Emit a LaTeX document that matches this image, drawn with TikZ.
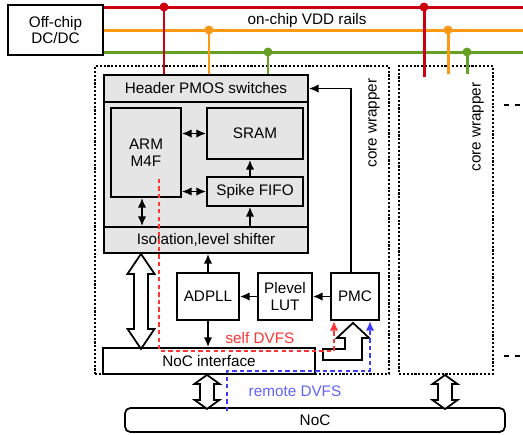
\documentclass[tikz,border=0pt]{standalone}
\usepackage{fontspec}
\setmainfont{Liberation Sans}
\usetikzlibrary{arrows.meta}

\definecolor{railred}{RGB}{204,0,17}
\definecolor{railorange}{RGB}{255,153,20}
\definecolor{railgreen}{RGB}{102,160,34}
\definecolor{selfred}{RGB}{255,51,51}
\definecolor{remoteblue}{RGB}{60,60,255}

\begin{document}
\begin{tikzpicture}[x=0.02cm,y=-0.02cm,line width=1pt,
  font=\fontsize{8.7}{9.4}\selectfont,
  box/.style={draw,fill=white,inner sep=0pt,align=center},
  blk/.style={box,fill=gray!20},
  wrapper/.style={draw,densely dotted,line width=1.2pt},
  sig/.style={-{Latex[length=5.5pt,width=4.8pt]}},
  bisig/.style={{Latex[length=5.5pt,width=4.8pt]}-{Latex[length=5.5pt,width=4.8pt]}},
  rail/.style={line width=1.7pt,draw=#1},
  fat/.style={draw,fill=white,line join=miter},
  dvfs/.style={sig,dash pattern=on 2.5pt off 1.8pt,line width=1.1pt,draw=#1}]

\useasboundingbox (0,0) rectangle (523,434);

% core wrappers
\node[wrapper,minimum width=5.88cm,minimum height=6.16cm] (wrap1) at (242,220) {};
\node[wrapper,minimum width=1.88cm,minimum height=6.16cm] (wrap2) at (446,220) {};
\node[rotate=90] (cw1) at (374,123) {core wrapper};
\node[rotate=90] (cw2) at (478,127) {core wrapper};
\draw[dashed] (504,105) -- (523,105);
\draw[dashed] (504,356) -- (523,356);

% supply
\node[box,minimum width=1.9cm,minimum height=1cm] (dcdc) at (55.5,30) {Off-chip\\DC/DC};
\node (vdd) at (307,21) {on-chip VDD rails};
\coordinate (redend) at (523,7);
\coordinate (orgend) at (523,30);
\coordinate (grnend) at (523,52);
\draw[rail=railred] (dcdc.east |- redend) -- (redend);
\draw[rail=railorange] (dcdc.east |- orgend) -- (orgend);
\draw[rail=railgreen] (dcdc.east |- grnend) -- (grnend);

% core
\node[blk,minimum width=4.08cm,minimum height=3.56cm] (core) at (206,164) {};
\node[blk,minimum width=4.08cm,minimum height=0.54cm] (header) at (206,88.5) {Header PMOS switches};
\node[blk,minimum width=4.08cm,minimum height=0.52cm] (iso) at (206,240) {Isolation,level shifter};
\node[blk,minimum width=1.4cm,minimum height=1.78cm] (arm) at (146,152.5) {ARM\\M4F};
\node[blk,minimum width=1.92cm,minimum height=1.02cm] (sram) at (255,133.5) {SRAM};
\node[blk,minimum width=1.92cm,minimum height=0.58cm] (fifo) at (255,191.5) {Spike FIFO};

% taps
\coordinate (tap1) at (164,7);
\coordinate (tap2) at (209,30);
\coordinate (tap3) at (268,52);
\coordinate (tap4) at (424,7);
\coordinate (tap5) at (448,30);
\coordinate (tap6) at (467,52);
\draw[rail=railred] (tap1) -- (tap1 |- header.north);
\draw[rail=railorange] (tap2) -- (tap2 |- header.north);
\draw[rail=railgreen] (tap3) -- (tap3 |- header.north);
\draw[rail=railred] (tap4) -- ++(0,70);
\draw[rail=railorange] (tap5) -- ++(0,44);
\draw[rail=railgreen] (tap6) -- ++(0,22);
\fill[railred] (tap1) circle (0.09cm) (tap4) circle (0.09cm);
\fill[railorange] (tap2) circle (0.09cm) (tap5) circle (0.09cm);
\fill[railgreen] (tap3) circle (0.09cm) (tap6) circle (0.09cm);

% power management
\node[box,minimum width=1.24cm,minimum height=0.94cm] (adpll) at (208,296.5) {ADPLL};
\node[box,minimum width=1.08cm,minimum height=0.94cm] (lut) at (285,296.5) {Plevel\\LUT};
\node[box,minimum width=0.96cm,minimum height=0.94cm] (pmc) at (355,296.5) {PMC};
\node[box,minimum width=4.24cm,minimum height=0.52cm] (nocif) at (209,361) {NoC interface};
\node[box,rounded corners=3pt,minimum width=7.6cm,minimum height=0.48cm] (noc) at (315,420) {NoC};

\draw[bisig] (arm.east |- sram.west) -- (sram.west);
\draw[bisig] (arm.east |- fifo.west) -- (fifo.west);
\draw[bisig] ([xshift=-0.08cm]arm.south) -- ([xshift=-0.08cm]arm.south |- iso.north);
\draw[sig] ([xshift=-0.1cm]fifo.south |- iso.north) -- ([xshift=-0.1cm]fifo.south);
\draw[sig] ([xshift=-0.1cm]fifo.north) -- ([xshift=-0.1cm]sram.south);
\draw[sig] (adpll.north) -- (adpll.north |- iso.south);
\draw[sig] (adpll.south) -- (adpll.south |- nocif.north);
\draw[sig] (pmc.west) -- (lut.east);
\draw[sig] (lut.west) -- (adpll.east);
\draw[sig] ([xshift=-0.08cm]pmc.north) |- (header.east);

% fat arrows
\draw[fat] ([xshift=-1.3cm]iso.south) -- ++(13.5,20) -- ++(-6.5,0) -- ++(0,55) -- ++(6.5,0)
  -- ++(-13.5,20) -- ++(-13.5,-20) -- ++(6.5,0) -- ++(0,-55) -- ++(-6.5,0) -- cycle;
\draw[fat] ([xshift=-0.04cm]nocif.south) -- ++(12.5,9) -- ++(-5.5,0) -- ++(0,16) -- ++(5.5,0)
  -- ++(-12.5,9) -- ++(-12.5,-9) -- ++(5.5,0) -- ++(0,-16) -- ++(-5.5,0) -- cycle;
\draw[fat] ([xshift=-0.02cm]wrap2.south) -- ++(12.5,9) -- ++(-5.5,0) -- ++(0,16) -- ++(5.5,0)
  -- ++(-12.5,9) -- ++(-12.5,-9) -- ++(5.5,0) -- ++(0,-16) -- ++(-5.5,0) -- cycle;
\draw[fat] ([xshift=-0.04cm,yshift=-0.04cm]pmc.south) -- ++(16,15) -- ++(-7,0) -- ++(0,22)
  -- ++(-39,0) -- ++(0,-11) -- ++(22,0) -- ++(0,-11) -- ++(-8,0) -- cycle;

% DVFS paths
\coordinate (selfturn) at (334,351);
\coordinate (remoteturn) at (370,371);
\draw[dvfs=selfred] ([xshift=0.26cm,yshift=0.38cm]arm.south) |- (selfturn) -- (selfturn |- pmc.south);
\draw[dvfs=remoteblue] ([xshift=-1.76cm,yshift=-0.08cm]noc.north) |- (remoteturn) -- (remoteturn |- pmc.south);
\node[text=selfred] (selflbl) at (260,338) {self DVFS};
\node[text=remoteblue!80] (remotelbl) at (295,391) {remote DVFS};
\end{tikzpicture}
\end{document}
